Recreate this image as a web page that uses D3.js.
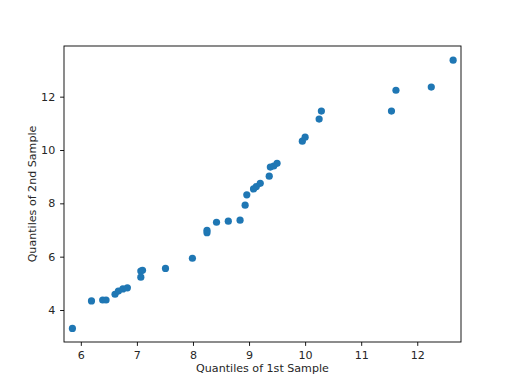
<!DOCTYPE html>
<html>
<head>
<meta charset="utf-8">
<script src="https://cdn.jsdelivr.net/npm/d3@7"></script>
<style>
  body { margin: 0; background: white; }
  text { font-family: "DejaVu Sans", sans-serif; }
</style>
</head>
<body>
<div id="chart"></div>
<script>
const width = 512;
const height = 384;

// quantiles
const sample1 = [5.85, 6.19, 6.39, 6.45, 6.61, 6.67, 6.75, 6.83, 7.07, 7.07, 7.10, 7.51,
    7.99, 8.25, 8.25, 8.42, 8.63, 8.84, 8.93, 8.96, 9.08, 9.13, 9.20, 9.36, 9.38, 9.44,
    9.50, 9.95, 10.00, 10.25, 10.29, 11.54, 11.62, 12.25, 12.64];
const sample2 = [3.31, 4.34, 4.375, 4.375, 4.59, 4.71, 4.79, 4.83, 5.23, 5.46, 5.49, 5.56,
    5.94, 6.90, 6.99, 7.29, 7.33, 7.37, 7.93, 8.32, 8.54, 8.63, 8.75, 9.02, 9.36, 9.40,
    9.50, 10.33, 10.48, 11.16, 11.46, 11.46, 12.24, 12.36, 13.37];
const xTicks = [6, 7, 8, 9, 10, 11, 12];
const yTicks = [4, 6, 8, 10, 12];

const margin = { left: 64, right: 51, top: 46, bottom: 42 };

var svg = d3.select("#chart")
    .append("svg")
    .attr("width", width)
    .attr("height", height)
    .style("background-color", "white");

var xScale = d3.scaleLinear()
    .domain([5.70, 12.78])
    .range([margin.left, width - margin.right]);

var yScale = d3.scaleLinear()
    .domain([2.80, 13.90])
    .range([height - margin.bottom, margin.top]);

var xAxis = svg.append("g")
    .attr("transform", "translate(0," + (height - margin.bottom) + ")")
    .call(d3.axisBottom(xScale).tickValues(xTicks).tickSize(3.9).tickPadding(4.9).tickFormat(d3.format("d")));

var yAxis = svg.append("g")
    .attr("transform", "translate(" + margin.left + ",0)")
    .call(d3.axisLeft(yScale).tickValues(yTicks).tickSize(3.9).tickPadding(4.9).tickFormat(d3.format("d")));

[xAxis, yAxis].forEach(ax => {
    ax.select(".domain").remove();
    ax.selectAll("line").attr("stroke", "black").attr("stroke-width", 0.9);
    ax.selectAll("text")
        .attr("font-size", 11.1)
        .attr("fill", "#262626")
        .style("font-family", "DejaVu Sans");
});

// frame
svg.append("rect")
    .attr("x", margin.left)
    .attr("y", margin.top)
    .attr("width", width - margin.left - margin.right)
    .attr("height", height - margin.top - margin.bottom)
    .attr("fill", "none")
    .attr("stroke", "black")
    .attr("stroke-width", 0.9);

svg.append("g")
    .selectAll("circle")
    .data(sample1.map((d, i) => [d, sample2[i]]))
    .enter()
    .append("circle")
    .attr("cx", d => xScale(d[0]))
    .attr("cy", d => yScale(d[1]))
    .attr("r", 3.6)
    .attr("fill", "#1f77b4");

svg.append("text")
    .attr("x", (margin.left + width - margin.right) / 2)
    .attr("y", 372)
    .attr("text-anchor", "middle")
    .attr("font-size", 11.1)
    .attr("fill", "#262626")
    .text("Quantiles of 1st Sample");

svg.append("text")
    .attr("transform", "translate(36," + ((margin.top + height - margin.bottom) / 2) + ") rotate(-90)")
    .attr("text-anchor", "middle")
    .attr("font-size", 11.1)
    .attr("fill", "#262626")
    .text("Quantiles of 2nd Sample");
</script>
</body>
</html>
